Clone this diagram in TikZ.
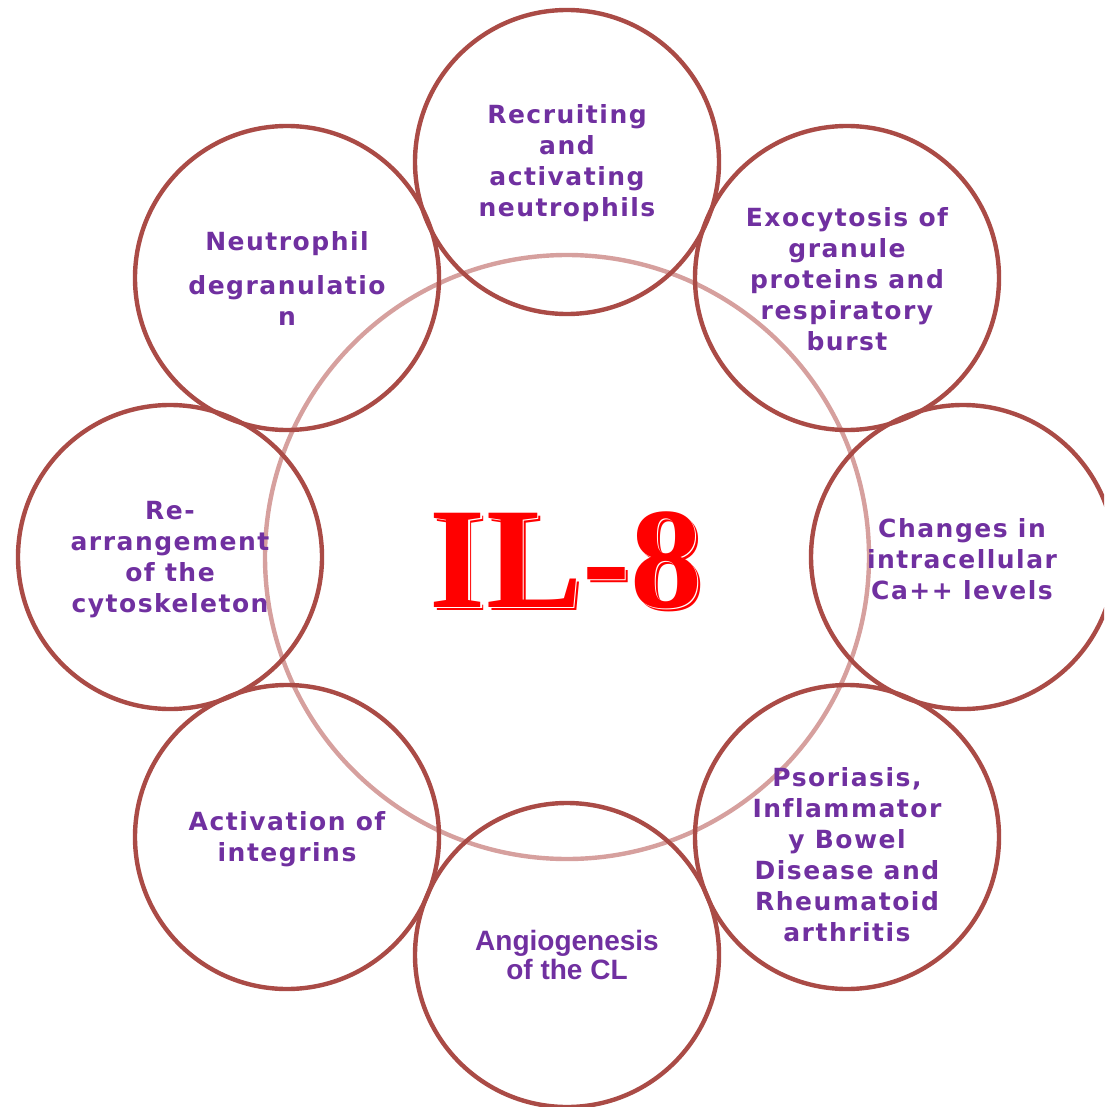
\documentclass[tikz,border=0pt]{standalone}
\usepackage{fontspec}
\newfontfamily\bubblefont{DejaVu Sans}[LetterSpace=6, Ligatures=NoCommon]
\newfontfamily\arialfont{Liberation Sans}
\newfontfamily\titlefont{Liberation Serif}
\definecolor{ringred}{RGB}{170,75,70}
\definecolor{palering}{RGB}{214,160,158}
\definecolor{labelpurple}{RGB}{112,48,160}
\definecolor{titlered}{RGB}{255,0,0}
\tikzset{
  bubble/.style={circle, draw=ringred, line width=2.2pt, minimum size=152pt, inner sep=0pt},
  hub/.style={circle, draw=palering, line width=2.2pt, minimum size=302pt, inner sep=0pt},
  bubbletext/.style={text=labelpurple, align=center, inner sep=0pt,
    font=\bubblefont\bfseries\fontsize{12.5}{15.5}\selectfont},
  angiotext/.style={text=labelpurple, align=center, inner sep=0pt,
    font=\arialfont\bfseries\fontsize{14}{14.5}\selectfont},
  titletext/.style={inner sep=0pt, font=\titlefont\bfseries\fontsize{72}{72}\selectfont}
}
\begin{document}
\begin{tikzpicture}[x=0.5pt, y=-0.5pt]
  \useasboundingbox (0,0) rectangle (1104,1107);
  \clip (0,0) rectangle (1104,1107);
  % centre ring
  \node[hub] (hub) at (567,557) {};
  % outer ring of circles
  \node[bubble] (recruit) at (567,162) {};
  \node[bubble] (exo) at (847,278) {};
  \node[bubble] (calcium) at (963,557) {};
  \node[bubble] (psoriasis) at (847,837) {};
  \node[bubble] (angio) at (567,955) {};
  \node[bubble] (integrin) at (287,837) {};
  \node[bubble] (cyto) at (170,557) {};
  \node[bubble] (degran) at (287,278) {};
  % labels
  \node[bubbletext] (recruit text) at (567,163) {Recruiting\\and\\activating\\neutrophils};
  \node[bubbletext] (exo text) at (847,279) {Exocytosis of\\granule\\proteins and\\respiratory\\burst};
  \node[bubbletext] (calcium text) at (962,559) {Changes in\\intracellular\\Ca++ levels};
  \node[bubbletext] (psoriasis text) at (847,855) {Psoriasis,\\Inflammator\\y Bowel\\Disease and\\Rheumatoid\\arthritis};
  \node[angiotext] (angio text) at (567,955) {Angiogenesis\\of the CL};
  \node[bubbletext] (integrin text) at (287,839) {Activation of\\integrins};
  \node[bubbletext] (cyto text) at (170,560) {Re-\\arrangement\\of the\\cytoskeleton};
  \node[bubbletext] (degran text) at (287,279) {Neutrophil\\[6.5pt]degranulatio\\n};
  % title with offset shadow
  \node[titletext, text=titlered] (il8 shadow) at (569,563) {IL-8};
  \node[titletext, text=white] (il8 gap) at (567.5,561.5) {IL-8};
  \node[titletext, text=titlered] (il8) at (566,560) {IL-8};
\end{tikzpicture}
\end{document}
